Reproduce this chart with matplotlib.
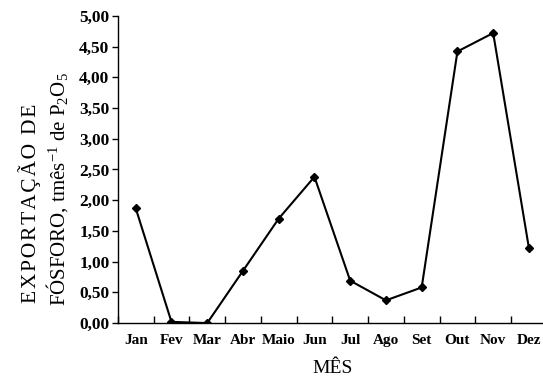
import matplotlib
matplotlib.use("Agg")
import matplotlib.pyplot as plt
from matplotlib.ticker import FixedLocator

months = ["Jan", "Fev", "Mar", "Abr", "Maio", "Jun", "Jul", "Ago", "Set", "Out", "Nov", "Dez"]
values = [1.87, 0.02, 0.00, 0.85, 1.70, 2.38, 0.69, 0.37, 0.58, 4.42, 4.72, 1.22]
yticks = [0.0, 0.5, 1.0, 1.5, 2.0, 2.5, 3.0, 3.5, 4.0, 4.5, 5.0]

plt.rcParams['font.family'] = ['Liberation Serif', 'DejaVu Serif']
plt.rcParams['mathtext.fontset'] = 'custom'
plt.rcParams['mathtext.rm'] = 'Liberation Serif'
plt.rcParams['mathtext.it'] = 'Liberation Serif:italic'
plt.rcParams['mathtext.bf'] = 'Liberation Serif:bold'

fig = plt.figure(figsize=(5.43, 3.77), dpi=100)
ax = fig.add_axes([0.217, 0.143, 0.790, 0.815])
x = list(range(len(months)))
ax.plot(x, values, color='black', lw=1.5, marker='D', ms=4.5, mfc='black', mec='black')

ax.set_xlim(-0.5, len(months) - 0.5)
ax.set_ylim(0, 5.0)
ax.set_yticks(yticks)
ax.set_yticklabels([f"{v:.2f}".replace('.', ',') for v in yticks], fontweight='bold', fontsize=12.5)
ax.set_xticks(x)
ax.set_xticklabels(months, fontweight='bold', fontsize=11)
ax.xaxis.set_minor_locator(FixedLocator([i + 0.5 for i in range(-1, len(months))]))
ax.tick_params(axis='x', which='major', length=0, pad=8)
ax.tick_params(axis='x', which='minor', direction='in', length=5, width=1)
ax.tick_params(axis='y', direction='out', length=4, width=1, pad=2)
for s in ['top', 'right']:
    ax.spines[s].set_visible(False)
for s in ['left', 'bottom']:
    ax.spines[s].set_linewidth(1.0)

ax.set_xlabel("MÊS", fontsize=14, labelpad=9)
line1 = "\u200a".join("EXPORTAÇÃO DE")
fig.text(0.055, 0.196, line1, rotation=90, ha='center', va='bottom', fontsize=15.5)
fig.text(0.105, 0.188, r"FÓSFORO, tmês$^{-1}$ de P$_2$O$_5$", rotation=90, ha='center', va='bottom', fontsize=15)

fig.savefig("out.png", dpi=100)
